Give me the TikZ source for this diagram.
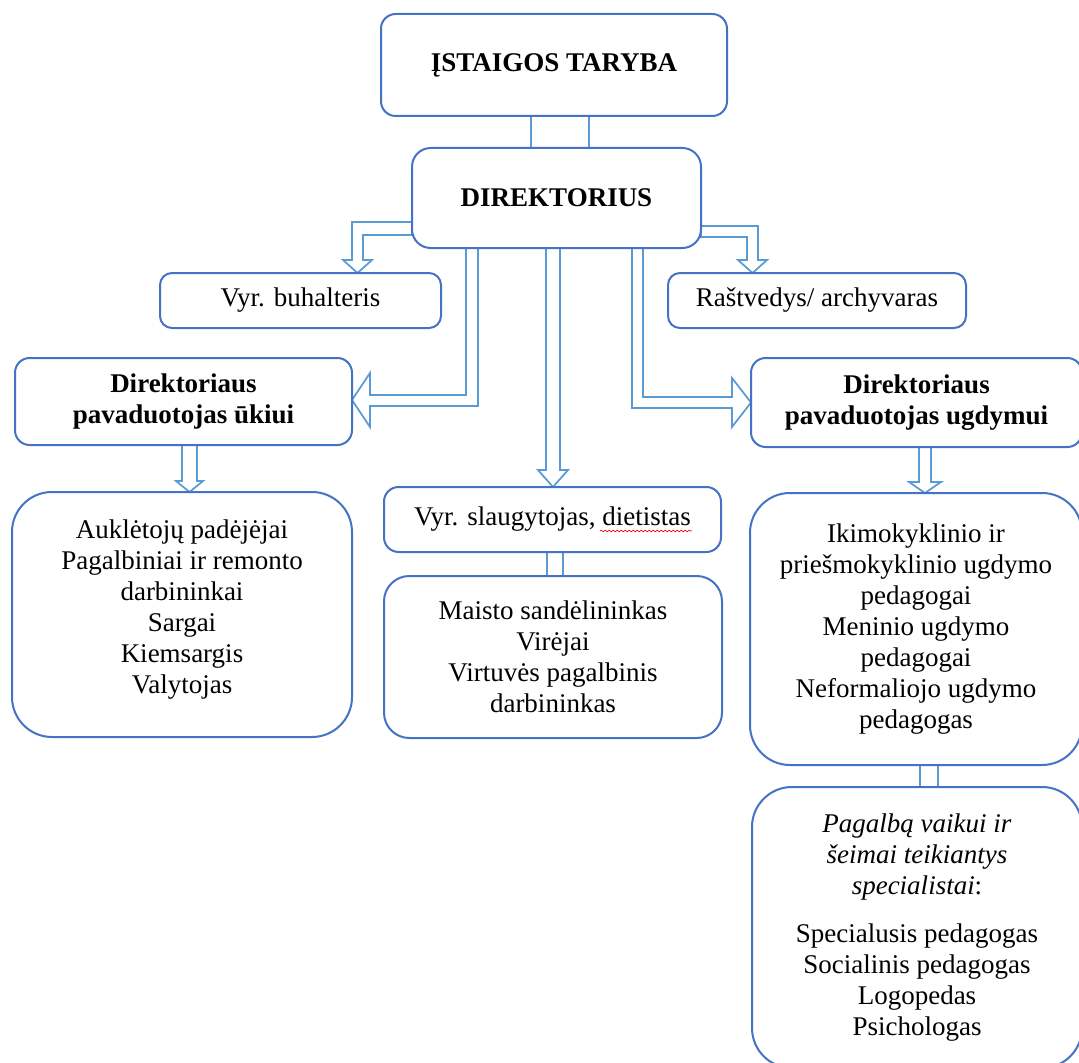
\documentclass[tikz,border=0pt]{standalone}
\usepackage{fontspec}
\setmainfont{Liberation Serif}
\usetikzlibrary{decorations.pathmorphing}
\definecolor{boxblue}{HTML}{4472C4}
\definecolor{arrblue}{HTML}{5B9BD5}
\newcommand\bodyfont{\fontsize{20.25}{23.25}\selectfont}
\pgfdeclarelayer{bg}
\pgfsetlayers{bg,main}
\tikzset{
  orgbox/.style={draw=boxblue, line width=1.5pt, fill=white, inner sep=0pt, outer sep=0pt, align=center, font=\bodyfont},
  plaintext/.style={inner sep=0pt, outer sep=0pt, align=center, font=\bodyfont},
  arr/.style={draw=arrblue, line width=1.3pt, fill=white, line join=miter},
  conn/.style={draw=arrblue, line width=1.3pt, fill=white}
}
\begin{document}
\begin{tikzpicture}[x=0.75pt,y=-0.75pt]
\useasboundingbox (0,0) rectangle (1079,1063);

\node[orgbox, rounded corners=11pt, minimum width=259.5pt, minimum height=76.5pt] (taryba) at (554,65) {\textbf{ĮSTAIGOS TARYBA}};
\node[orgbox, rounded corners=14pt, minimum width=216.75pt, minimum height=75pt] (dir) at (556.5,198) {\textbf{DIREKTORIUS}};
\node[orgbox, rounded corners=9pt, minimum width=210.75pt, minimum height=41.25pt] (buh) at (300.5,300.5) {Vyr. buhalteris};
\node[orgbox, rounded corners=9pt, minimum width=223.5pt, minimum height=41.25pt] (rast) at (817,300.5) {Raštvedys/ archyvaras};
\node[orgbox, rounded corners=11pt, minimum width=252.75pt, minimum height=65.25pt] (ukis) at (183.5,401.5) {\textbf{Direktoriaus}\\\textbf{pavaduotojas ūkiui}};
\node[orgbox, rounded corners=11pt, minimum width=248.25pt, minimum height=66.75pt] (ugd) at (916.5,402.5) {\textbf{Direktoriaus}\\\textbf{pavaduotojas ugdymui}};
\node[orgbox, rounded corners=11pt, minimum width=252.75pt, minimum height=48.75pt] (slaug) at (552.5,519.5) {Vyr. slaugytojas, dietistas};
\node[orgbox, rounded corners=19pt, minimum width=253.5pt, minimum height=121.5pt] (maisto) at (553,657) {Maisto sandėlininkas\\Virėjai\\Virtuvės pagalbinis\\darbininkas};
\node[orgbox, rounded corners=30pt, minimum width=255pt, minimum height=183.75pt] (ukisgrp) at (182,614.5) {};
\node[plaintext] (ukistxt) at (182,610) {Auklėtojų padėjėjai\\Pagalbiniai ir remonto\\darbininkai\\Sargai\\Kiemsargis\\Valytojas};
\node[orgbox, rounded corners=30pt, minimum width=249pt, minimum height=204pt] (ugdgrp) at (916,629) {Ikimokyklinio ir\\priešmokyklinio ugdymo\\pedagogai\\Meninio ugdymo\\pedagogai\\Neformaliojo ugdymo\\pedagogas};
\node[orgbox, rounded corners=30pt, minimum width=247.5pt, minimum height=210.75pt] (spec) at (917,927.5) {\textit{Pagalbą vaikui ir}\\\textit{šeimai teikiantys}\\\textit{specialistai}:\\[12.75pt]Specialusis pedagogas\\Socialinis pedagogas\\Logopedas\\Psichologas};

\begin{pgfonlayer}{bg}
\fill[white] (0,0) rectangle (1079,1063);
% connectors
\draw[conn] (531,0 |- taryba.south) rectangle (589,0 |- dir.north);
\draw[conn] (547,0 |- slaug.south) rectangle (563,0 |- maisto.north);
\draw[conn] (920,0 |- ugdgrp.south) rectangle (938,0 |- spec.north);
% arrows
\draw[arr] (dir.west |- 0,222) -- (352,222) -- (352,260) -- (343,260) -- (357.5,0 |- buh.north) -- (372,260) -- (363,260) -- (363,235) -- (dir.west |- 0,235) -- cycle;
\draw[arr] (dir.east |- 0,226) -- (758,226) -- (758,260) -- (767,260) -- (752.5,0 |- rast.north) -- (738,260) -- (747,260) -- (747,237) -- (dir.east |- 0,237) -- cycle;
\draw[arr] (466,0 |- dir.south) -- (466,395) -- (370,395) -- (370,373) -- (ukis.east |- 0,400) -- (370,427) -- (370,406) -- (478,406) -- (478,0 |- dir.south) -- cycle;
\draw[arr] (632,0 |- dir.south) -- (632,408) -- (732,408) -- (732,427) -- (ugd.west |- 0,402.5) -- (732,378) -- (732,397) -- (643,397) -- (643,0 |- dir.south) -- cycle;
\draw[arr] (546,0 |- dir.south) -- (546,470) -- (538,470) -- (553,0 |- slaug.north) -- (568,470) -- (560,470) -- (560,0 |- dir.south) -- cycle;
\draw[arr] (182,0 |- ukis.south) -- (182,481) -- (176,481) -- (189.5,0 |- ukisgrp.north) -- (203,481) -- (197,481) -- (197,0 |- ukis.south) -- cycle;
\draw[arr] (919,0 |- ugd.south) -- (919,482) -- (909,482) -- (925,0 |- ugdgrp.north) -- (941,482) -- (931,482) -- (931,0 |- ugd.south) -- cycle;
\end{pgfonlayer}

% spell-check underline
\draw[red, line width=0.5pt, decorate, decoration={snake, amplitude=0.6pt, segment length=3pt}] (600,531) -- (692,531);
\end{tikzpicture}
\end{document}
